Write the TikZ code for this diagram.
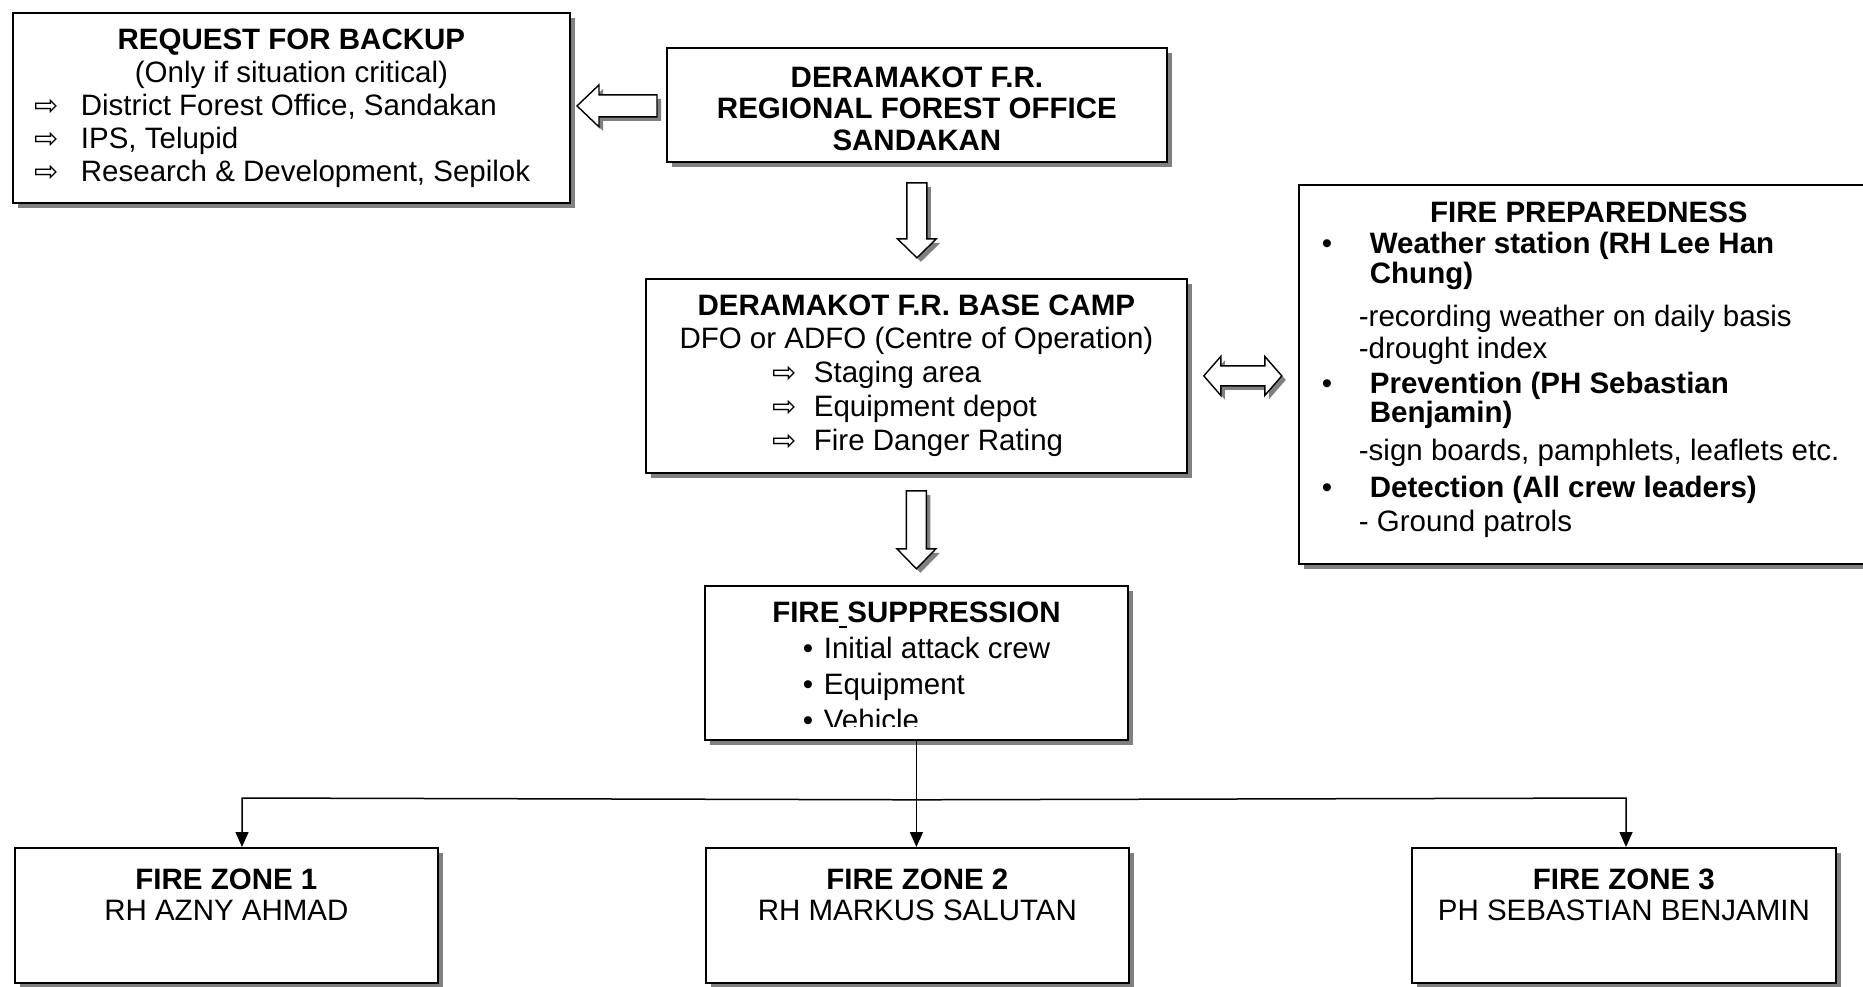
\documentclass[tikz,border=0pt]{standalone}
\usepackage{fontspec}
\setmainfont{Liberation Sans}
\newfontfamily\symfont{DejaVu Sans}
\usetikzlibrary{shadows,calc,arrows.meta}
\newcommand{\wharr}{{\symfont\fontsize{29}{29}\selectfont ⇨}}
\tikzset{
  boxstyle/.style={draw=black, line width=1.8pt, fill=white, inner sep=0pt, anchor=north west,
    drop shadow={shadow xshift=5pt, shadow yshift=-5pt, fill=black!50, opacity=1}},
  txt/.style={inner sep=0pt, anchor=north, align=center, font=\fontsize{29.5}{33}\selectfont},
  blockarrow/.style={draw=black, line width=1.4pt, fill=white, line join=miter,
    drop shadow={shadow xshift=4pt, shadow yshift=-4pt, fill=black!50, opacity=1}},
  conn/.style={line width=1.5pt, -{Triangle[width=13pt,length=15pt]}},
}
\begin{document}
\begin{tikzpicture}[x=1pt,y=-1pt]
\useasboundingbox (0,0) rectangle (1863,986);
\fill[white] (0,0) rectangle (1863,986);
\clip (0,0) rectangle (1863,986);

% boxes
\node[boxstyle, minimum width=557pt, minimum height=190pt] (req) at (12,12) {};
\node[boxstyle, minimum width=500pt, minimum height=114pt] (dera) at (666,47) {};
\node[boxstyle, minimum width=541pt, minimum height=194pt] (base) at (645,278) {};
\node[boxstyle, minimum width=580pt, minimum height=379pt] (prep) at (1298,184) {};
\node[boxstyle, minimum width=423pt, minimum height=154pt] (supp) at (704,585) {};
\node[boxstyle, minimum width=423pt, minimum height=135pt] (z1) at (14,847) {};
\node[boxstyle, minimum width=423pt, minimum height=135pt] (z2) at (705,847) {};
\node[boxstyle, minimum width=424pt, minimum height=135pt] (z3) at (1411,847) {};

% texts
\node[txt] (reqtxt) at ($(req.north)+(0,12)$) {%
\rule{0pt}{25pt}\makebox[557pt][c]{\bfseries REQUEST FOR BACKUP}\\
\makebox[557pt][c]{(Only if situation critical)}\\
\makebox[557pt][l]{\hspace*{22pt}\makebox[46pt][l]{\wharr}District Forest Office, Sandakan}\\
\makebox[557pt][l]{\hspace*{22pt}\makebox[46pt][l]{\wharr}IPS, Telupid}\\
\makebox[557pt][l]{\hspace*{22pt}\makebox[46pt][l]{\wharr}Research \& Development, Sepilok}};

\node[txt, font=\fontsize{29.5}{31.5}\selectfont\bfseries] (deratxt) at ($(dera.north)+(0,15)$) {%
\rule{0pt}{25pt}DERAMAKOT F.R.\\REGIONAL FOREST OFFICE\\SANDAKAN};

\node[txt, font=\fontsize{29.5}{33.7}\selectfont] (basetxt) at ($(base.north)+(0,12)$) {%
\rule{0pt}{25pt}\makebox[541pt][c]{\bfseries DERAMAKOT F.R. BASE CAMP}\\
\makebox[541pt][c]{DFO or ADFO (Centre of Operation)}\\
\makebox[541pt][l]{\hspace*{127pt}\makebox[41pt][l]{\wharr}Staging area}\\
\makebox[541pt][l]{\hspace*{127pt}\makebox[41pt][l]{\wharr}Equipment depot}\\
\makebox[541pt][l]{\hspace*{127pt}\makebox[41pt][l]{\wharr}Fire Danger Rating}};

\node[txt, font=\fontsize{29.5}{29}\selectfont] (preptxt) at ($(prep.north)+(0,13)$) {%
\rule{0pt}{25pt}\makebox[580pt][c]{\bfseries FIRE PREPAREDNESS}\\[2pt]
\makebox[580pt][l]{\hspace*{23pt}\makebox[48pt][l]{•}\bfseries Weather station (RH Lee Han}\\[1pt]
\makebox[580pt][l]{\hspace*{71pt}\bfseries Chung)}\\[14pt]
\makebox[580pt][l]{\hspace*{60pt}-recording weather on daily basis}\\[3pt]
\makebox[580pt][l]{\hspace*{60pt}-drought index}\\[6pt]
\makebox[580pt][l]{\hspace*{23pt}\makebox[48pt][l]{•}\bfseries Prevention (PH Sebastian}\\[0pt]
\makebox[580pt][l]{\hspace*{71pt}\bfseries Benjamin)}\\[9pt]
\makebox[580pt][l]{\hspace*{60pt}-sign boards, pamphlets, leaflets etc.}\\[8pt]
\makebox[580pt][l]{\hspace*{23pt}\makebox[48pt][l]{•}\bfseries Detection (All crew leaders)}\\[5pt]
\makebox[580pt][l]{\hspace*{60pt}- Ground patrols}};

\begin{scope}
\clip ($(supp.north west)+(2,2)$) rectangle ($(supp.south east)+(-2,-14)$);
\node[txt, font=\fontsize{29.5}{36}\selectfont] (supptxt) at ($(supp.north)+(0,12)$) {%
\rule{0pt}{25pt}\makebox[423pt][c]{\bfseries FIRE\rule[-6pt]{8pt}{2.5pt}SUPPRESSION}\\
\makebox[423pt][l]{\hspace*{98pt}\makebox[21pt][l]{•}Initial attack crew}\\
\makebox[423pt][l]{\hspace*{98pt}\makebox[21pt][l]{•}Equipment}\\
\makebox[423pt][l]{\hspace*{98pt}\makebox[21pt][l]{•}Vehicle}};
\end{scope}

\node[txt, font=\fontsize{29.5}{31}\selectfont] (z1txt) at ($(z1.north)+(0,17)$) {\rule{0pt}{25pt}\textbf{FIRE ZONE 1}\\RH AZNY AHMAD};
\node[txt, font=\fontsize{29.5}{31}\selectfont] (z2txt) at ($(z2.north)+(0,17)$) {\rule{0pt}{25pt}\textbf{FIRE ZONE 2}\\RH MARKUS SALUTAN};
\node[txt, font=\fontsize{29.5}{31}\selectfont] (z3txt) at ($(z3.north)+(0,17)$) {\rule{0pt}{25pt}\textbf{FIRE ZONE 3}\\PH SEBASTIAN BENJAMIN};

% block arrows
\coordinate (la) at ($(dera.west)+(-9,1)$);
\draw[blockarrow] (la) ++(0,-11) -- ++(-58,0) -- ++(0,-10) -- ++(-22,21) -- ++(22,21)
  -- ++(0,-10) -- ++(58,0) -- cycle;
\coordinate (da1) at ($(dera.south)+(0,20)$);
\draw[blockarrow] (da1) ++(-10,0) -- ++(20,0) -- ++(0,56) -- ++(9.5,0) -- ++(-19.5,19)
  -- ++(-19.5,-19) -- ++(9.5,0) -- cycle;
\coordinate (da2) at ($(base.south)+(0,17)$);
\draw[blockarrow] (da2) ++(-10,0) -- ++(20,0) -- ++(0,58) -- ++(9.5,0) -- ++(-19.5,20)
  -- ++(-19.5,-20) -- ++(9.5,0) -- cycle;
\coordinate (dl) at ($(base.east)+(16,0)$);
\draw[blockarrow] (dl) -- ++(17,-19.5) -- ++(0,9.5) -- ++(44,0) -- ++(0,-9.5) -- ++(17,19.5)
  -- ++(-17,19.5) -- ++(0,-9.5) -- ++(-44,0) -- ++(0,9.5) -- cycle;

% connectors
\coordinate (hub) at ($(supp.south)+(0,59)$);
\coordinate (j1) at (242,798);
\coordinate (j3) at (1626,798);
\draw[conn] (supp.south) -- (supp.south |- z2.north);
\draw[conn] (hub) -- (j1) -- (j1 |- z1.north);
\draw[conn] (hub) -- (j3) -- (j3 |- z3.north);
\end{tikzpicture}
\end{document}
